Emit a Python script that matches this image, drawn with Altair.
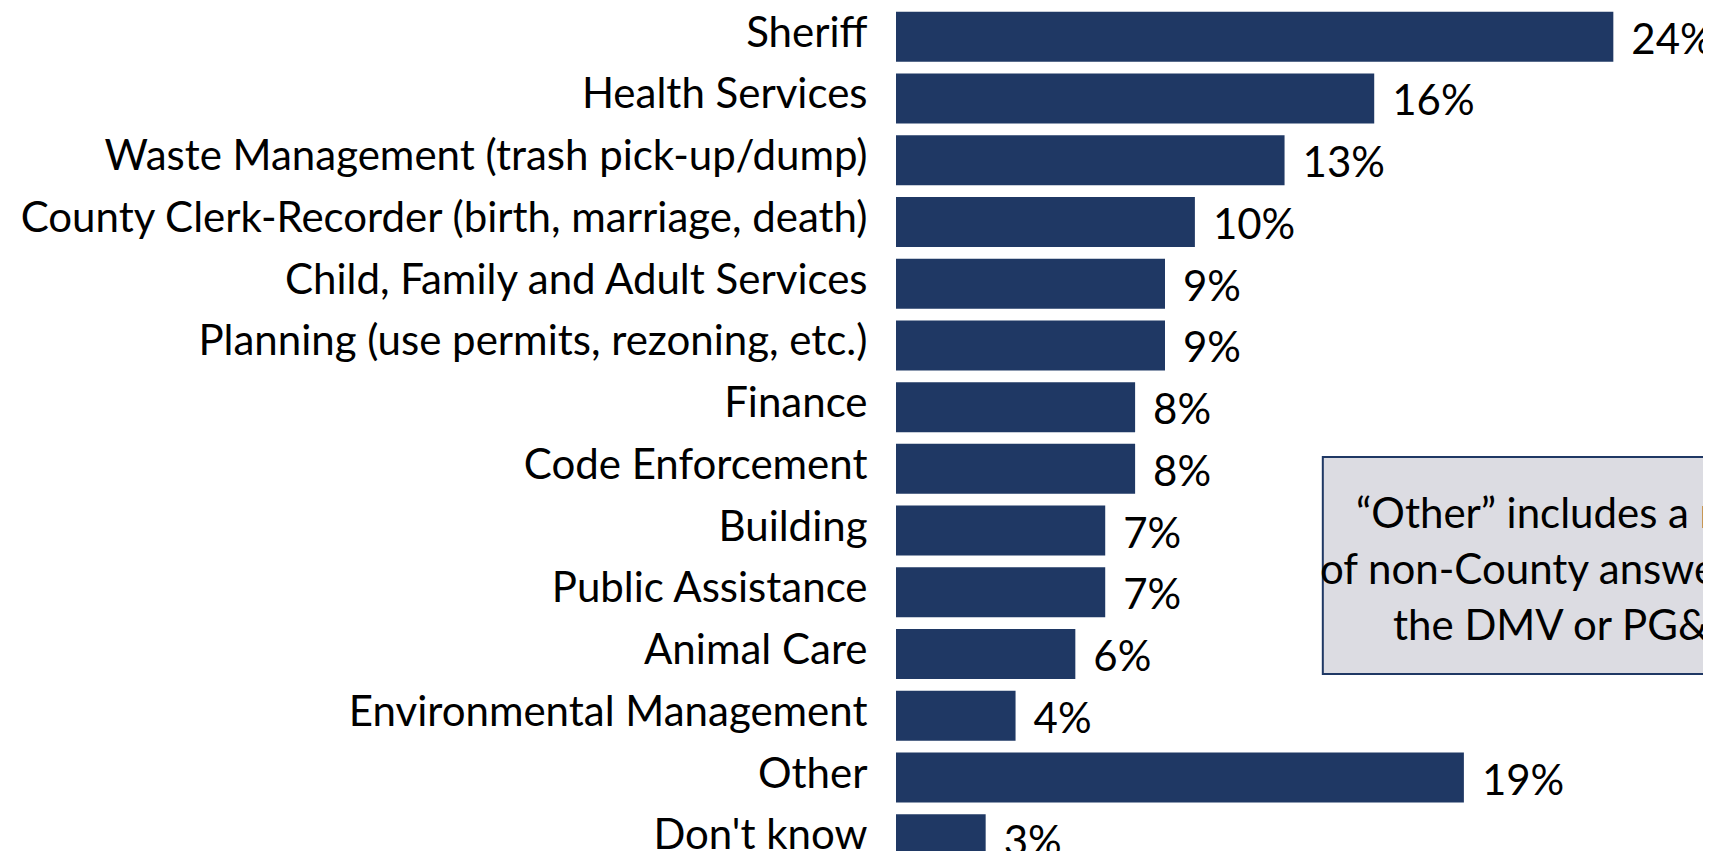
import altair as alt
import pandas as pd

categories = [
    "Sheriff",
    "Health Services",
    "Waste Management (trash pick-up/dump)",
    "County Clerk-Recorder (birth, marriage, death)",
    "Child, Family and Adult Services",
    "Planning (use permits, rezoning, etc.)",
    "Finance",
    "Code Enforcement",
    "Building",
    "Public Assistance",
    "Animal Care",
    "Environmental Management",
    "Other",
    "Don't know",
]
values = [24, 16, 13, 10, 9, 9, 8, 8, 7, 7, 6, 4, 19, 3]
value_labels = [f"{v}%" for v in values]

note_lines = [
    "\u201cOther\u201d includes a number",
    "of non-County answers, such as",
    "the DMV or PG&E.",
]
note_x = [14.28]
note_x2 = [31.1]

FONT = "Lato"
FS = 42
NAVY = "#1f3864"

df = pd.DataFrame({"category": categories, "value": values, "label": value_labels})

yscale = alt.Scale(domain=categories, range=[0, 860], paddingInner=0.19, paddingOuter=0.06)
xscale = alt.Scale(domain=[0, 27], nice=False, zero=True)

base = alt.Chart(df).encode(
    y=alt.Y(
        "category:N",
        sort=categories,
        scale=yscale,
        axis=alt.Axis(
            title=None,
            domain=False,
            ticks=False,
            grid=False,
            labelFont=FONT,
            labelFontSize=FS,
            labelColor="black",
            labelPadding=29,
            labelLimit=0,
            labelOffset=-3,
        ),
    )
)

bars = base.mark_bar(color=NAVY).encode(
    x=alt.X("value:Q", scale=xscale, axis=None)
)

texts = base.mark_text(
    align="left", baseline="middle", dx=18, dy=4, font=FONT, fontSize=FS, color="black"
).encode(x=alt.X("value:Q", scale=xscale, axis=None), text="label:N")

box_df = pd.DataFrame({"x": note_x, "x2": note_x2})
box = alt.Chart(box_df).mark_rect(
    fill="#dcdce2", stroke=NAVY, strokeWidth=2
).encode(
    x=alt.X("x:Q", scale=xscale, axis=None),
    x2="x2:Q",
    y=alt.value(449),
    y2=alt.value(666),
)

note_pos = [(460, 507), (424, 563), (497, 619)]
note_layers = [
    alt.Chart(box_df).mark_text(
        text=line,
        align="left",
        baseline="middle",
        font=FONT,
        fontSize=FS,
        color="black",
    ).encode(x=alt.value(px), y=alt.value(py))
    for line, (px, py) in zip(note_lines, note_pos)
]

chart = (
    alt.layer(bars, texts, box, *note_layers)
    .properties(
        width=807,
        height=843,
        autosize=alt.AutoSizeParams(type="none"),
        padding={"left": 888, "top": 0, "right": 0, "bottom": 0},
        view=alt.ViewBackground(stroke="transparent", strokeWidth=0, strokeOpacity=0),
    )
    .configure_view(strokeWidth=0, stroke="transparent", strokeOpacity=0)
    .configure_axis(domain=False, grid=False, ticks=False)
    .configure(background="white", style={"cell": {"stroke": "transparent", "strokeWidth": 0}})
)

chart.save("out.html", embed_options={"renderer": "svg", "actions": False})
